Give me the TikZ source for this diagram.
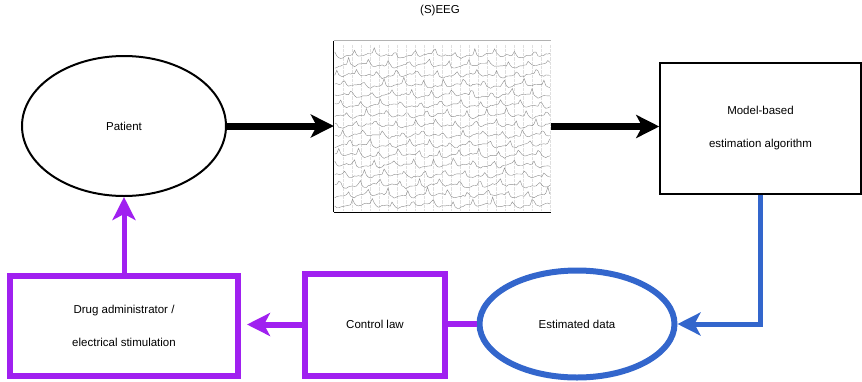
\documentclass[tikz,border=0pt]{standalone}
\usepackage{fontspec}
\setmainfont{Liberation Sans}
\usepackage{xcolor}
\usepackage{tikz}
\usetikzlibrary{shapes.geometric, arrows.meta}

\definecolor{loopblue}{RGB}{51,102,204}
\definecolor{looppurple}{RGB}{160,32,240}

\begin{document}
\begin{tikzpicture}[x=1pt, y=-1pt, every node/.style={font=\fontsize{11.5}{14}\selectfont}, align=center,
    >={Stealth[length=23pt, width=23pt, inset=6pt]}]
  \useasboundingbox (0,0) rectangle (862,381);

  \node (patient) [draw, ellipse, line width=2pt, minimum width=204, minimum height=140] at (124,126) {Patient};

  \node (eeg) [minimum width=217, minimum height=171, inner sep=0pt] at (442.5,126.5) {};
  \node (title) at (440,11) {(S)EEG};

  \node (model) [draw, rectangle, line width=1.5pt, minimum width=201, minimum height=131] at (760.5,128.5)
    {Model-based\\[19pt]estimation algorithm};

  \node (est) [draw=loopblue, ellipse, line width=6pt, minimum width=195, minimum height=107] at (577,324) {Estimated data};

  \node (ctrl) [draw=looppurple, rectangle, line width=6pt, minimum width=140, minimum height=102] at (375,324.5) {Control law};

  \node (drug) [draw=looppurple, rectangle, line width=6pt, minimum width=228, minimum height=100] at (124,326)
    {Drug administrator /\\[19pt]electrical stimulation};

  % recorded traces
  \begin{scope}[shift={(eeg.north west)}]
    \foreach \gx in {9,18,...,216}
      \draw[gray!25, densely dotted, line width=0.3pt] (\gx,4) -- (\gx,170);
    \pgfmathsetseed{7}
    \foreach \i/\ph in {1/3,2/9,3/1,4/14,5/6,6/17,7/11,8/2,9/15,10/8,11/19,12/4,13/13,14/18,15/10,16/5}
      \draw[gray!90, line width=0.4pt] plot[domain=1:216, samples=110]
        (\x, {4 + \i*10 + 0.6*rand - (5+2*rand)*exp(-((mod(\x+\ph,20)-4)^2)/2) + 2.2*exp(-((mod(\x+\ph,20)-10)^2)/12) + 1.2*sin(\x*6+\i*50)});
  \end{scope}
  \draw[gray!60, line width=1pt] (eeg.north west) -- (eeg.north east);
  \draw[line width=1pt] (eeg.north west) -- (eeg.south west);
  \draw[line width=1.3pt] (eeg.south west) -- (eeg.south east);

  \draw [->, line width=7pt] (patient.east) -- (patient.east -| eeg.west);
  \draw [->, line width=7pt] (eeg.east) -- (eeg.east -| model.west);
  \draw [->, loopblue, line width=5pt] (model.south) |- (est.east);
  \draw [looppurple, line width=6pt] (est.west) -- (est.west -| ctrl.east);
  \draw [->, looppurple, line width=6pt, shorten >=6pt] (ctrl.west) -- (ctrl.west -| drug.east);
  \draw [->, looppurple, line width=5pt] (drug.north) -- (patient.south);
\end{tikzpicture}
\end{document}
